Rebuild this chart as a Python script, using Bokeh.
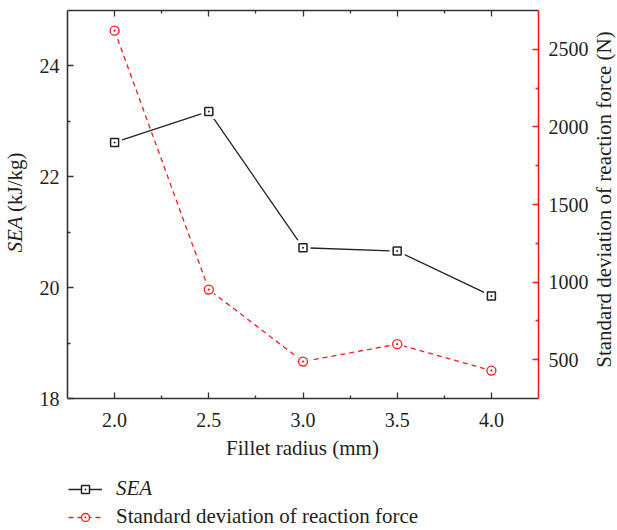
from math import pi
from bokeh.plotting import figure
from bokeh.models import (Range1d, LinearAxis, FixedTicker, PrintfTickFormatter,
                          CustomJSTickFormatter, Label, Legend, LegendItem,
                          ColumnDataSource)
from bokeh.embed import file_html
from bokeh.resources import INLINE

# ---- data ----
radius = [2.0, 2.5, 3.0, 3.5, 4.0]
sea = [22.62, 23.18, 20.72, 20.66, 19.85]
force_sd = [2620, 952, 488, 600, 430]
x_ticks = [2.0, 2.5, 3.0, 3.5, 4.0]
x_minor = [2.25, 2.75, 3.25, 3.75]
sea_ticks = [18, 20, 22, 24]
sea_minor = [19, 21, 23]
force_ticks = [500, 1000, 1500, 2000, 2500]
force_minor = [750, 1250, 1750, 2250]

X_LIM = (1.75, 4.25)
SEA_LIM = (18, 25)
FORCE_LIM = (250, 2750)

FONT = "Liberation Serif"
TXT = "#231f20"
AX = "#333333"
RED = "#ff1a1a"

W, H = 617, 530
# plot box in canvas pixels
BL, BR, BT, BB = 67, 538, 10, 398


def full_range(lo, hi, p_lo, p_hi, c_lo, c_hi):
    # map value lo at pixel p_lo and hi at p_hi, extend to canvas pixels c_lo..c_hi
    k = (hi - lo) / (p_hi - p_lo)
    return Range1d(lo + (c_lo - p_lo) * k, lo + (c_hi - p_lo) * k)


xr = full_range(X_LIM[0], X_LIM[1], BL, BR, 0, W)
yr = full_range(SEA_LIM[0], SEA_LIM[1], H - BB, H - BT, 0, H)
fr = full_range(FORCE_LIM[0], FORCE_LIM[1], H - BB, H - BT, 0, H)

p = figure(width=W, height=H, output_backend="svg", toolbar_location=None,
           x_range=xr, y_range=yr, min_border=0,
           min_border_left=0, min_border_right=0, min_border_top=0,
           min_border_bottom=0)
p.extra_y_ranges = {"force": fr}
p.xgrid.visible = False
p.ygrid.visible = False
p.outline_line_color = None
p.background_fill_color = "white"
p.border_fill_color = "white"


def style_axis(ax, color):
    ax.axis_line_color = color
    ax.axis_line_width = 1.6
    ax.major_tick_line_color = color
    ax.minor_tick_line_color = color
    ax.major_tick_line_width = 1.3
    ax.minor_tick_line_width = 1.3
    ax.major_tick_in = 6
    ax.major_tick_out = 0
    ax.minor_tick_in = 3
    ax.minor_tick_out = 0
    ax.major_label_text_font = FONT
    ax.major_label_text_font_size = "20px"
    ax.major_label_text_color = TXT


xax = p.xaxis[0]
style_axis(xax, AX)
xax.ticker = FixedTicker(ticks=x_ticks, minor_ticks=x_minor)
xax.formatter = PrintfTickFormatter(format="%.1f")
xax.major_label_standoff = 14
xax.fixed_location = SEA_LIM[0]
xax.bounds = X_LIM

yax = p.yaxis[0]
style_axis(yax, AX)
yax.ticker = FixedTicker(ticks=sea_ticks, minor_ticks=sea_minor)
yax.major_label_standoff = 8
yax.fixed_location = X_LIM[0]
yax.bounds = SEA_LIM

rax = LinearAxis(y_range_name="force")
style_axis(rax, RED)
rax.ticker = FixedTicker(ticks=force_ticks, minor_ticks=force_minor)
rax.major_label_standoff = 10
rax.fixed_location = X_LIM[1]
rax.bounds = FORCE_LIM
p.add_layout(rax, "right")

tax = LinearAxis()
style_axis(tax, AX)
tax.ticker = FixedTicker(ticks=x_ticks, minor_ticks=x_minor)
tax.formatter = CustomJSTickFormatter(code="return ''")
tax.major_label_standoff = 0
tax.fixed_location = SEA_LIM[1]
tax.bounds = X_LIM
p.add_layout(tax, "above")

src = ColumnDataSource(dict(x=radius, sea=sea, force=force_sd))

l1 = p.line("x", "sea", source=src, line_color="#222222", line_width=1.3)
g1 = p.scatter("x", "sea", source=src, marker="square", size=15,
               fill_color="white", line_color=None)
m1 = p.scatter("x", "sea", source=src, marker="square_dot", size=8,
               fill_color="white", line_color="#222222", line_width=1.5)

l2 = p.line("x", "force", source=src, y_range_name="force", line_color=RED,
            line_width=1.3, line_dash="5 4")
g2 = p.scatter("x", "force", source=src, y_range_name="force", marker="circle",
               size=14, fill_color="white", line_color=None)
m2 = p.scatter("x", "force", source=src, y_range_name="force", marker="circle_dot",
               size=9, fill_color="white", line_color=RED, line_width=1.3)


def lab(text, cx, cy, angle=0, align="center", style="normal", size="21px"):
    p.add_layout(Label(x=cx, y=H - cy, x_units="screen", y_units="screen",
                       text=text, angle=angle, text_align=align,
                       text_baseline="middle", text_font=FONT,
                       text_font_size=size, text_font_style=style,
                       text_color=TXT))


lab("SEA", 14, 252, angle=pi / 2, align="left", style="italic")
lab("(kJ/kg)", 14, 152, angle=pi / 2, align="right")
lab("Standard deviation of reaction force (N)", 603, 199, angle=pi / 2)
lab("Fillet radius (mm)", 302, 447)


def make_legend(label, rends, cy, style):
    leg = Legend(items=[LegendItem(label=label, renderers=rends)],
                 location=(68, H - (cy + 10)),
                 padding=0, margin=0, spacing=0, glyph_width=34, glyph_height=20,
                 label_standoff=14, label_height=20,
                 background_fill_alpha=0, border_line_color=None,
                 label_text_font=FONT, label_text_font_size="21px",
                 label_text_font_style=style, label_text_color=TXT)
    p.add_layout(leg)


make_legend("SEA", [l1, m1], 491, "italic")
make_legend("Standard deviation of reaction force", [l2, m2], 519, "normal")

open("out.html", "w").write(file_html(p, INLINE))
